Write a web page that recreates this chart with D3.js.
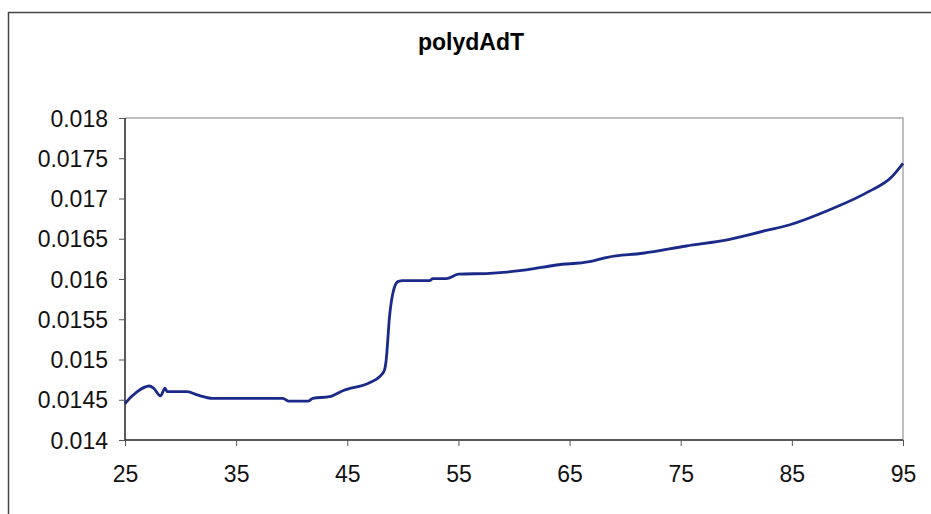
<!DOCTYPE html>
<html>
<head>
<meta charset="utf-8">
<script src="https://cdn.jsdelivr.net/npm/d3@7"></script>
<style>
  body { margin: 0; background: #fff; }
  svg { display: block; }
</style>
</head>
<body>
<svg id="chart"></svg>
<script>
// temperature (x) and polydAdT (y)
const temps = [25, 25.15, 26.05, 27.2, 27.6, 28.2, 28.6, 28.8, 30.6, 31.5, 32.9, 38.0, 39.2, 39.7, 41.5, 41.9, 43.4, 44.6, 47.0, 47.9, 48.35, 48.5, 48.8, 49.1, 49.55, 50.0, 52.4, 52.7, 53.9, 55.0, 57.8, 61.1, 63.8, 66.8, 68.4, 71.6, 75.5, 79.4, 82.6, 84.75, 88.35, 91.9, 94.0, 95.0];
const values = [0.01445, 0.014476, 0.014596, 0.014671, 0.01464, 0.014547, 0.014643, 0.0146, 0.0146, 0.01456, 0.014518, 0.014518, 0.014518, 0.014484, 0.014484, 0.014518, 0.014538, 0.014612, 0.014712, 0.014786, 0.01487, 0.014994, 0.015532, 0.015822, 0.015967, 0.01598, 0.01598, 0.016004, 0.016004, 0.01606, 0.016071, 0.016112, 0.016174, 0.016215, 0.01627, 0.01632, 0.01641, 0.016493, 0.0166, 0.016671, 0.016857, 0.017085, 0.017271, 0.017437];
const xTicks = [25, 35, 45, 55, 65, 75, 85, 95];
const yTicks = [0.014, 0.0145, 0.015, 0.0155, 0.016, 0.0165, 0.017, 0.0175, 0.018];

const width = 931, height = 514;
const margin = {left: 125, right: 28, top: 118, bottom: 74};

const svg = d3.select("#chart")
              .attr("width", width)
              .attr("height", height);

// outer chart frame
svg.append("rect")
   .attr("x", 8.5).attr("y", 12.5)
   .attr("width", 930).attr("height", 510)
   .attr("fill", "none")
   .attr("stroke", "#444")
   .attr("stroke-width", 1.5);

svg.append("text")
   .attr("x", 471).attr("y", 50)
   .attr("text-anchor", "middle")
   .attr("font-family", "Liberation Sans, Arial, sans-serif")
   .attr("font-weight", "bold")
   .attr("font-size", 23)
   .text("polydAdT");

const x = d3.scaleLinear().domain([25, 95]).range([margin.left, width - margin.right]);
const y = d3.scaleLinear().domain([0.014, 0.018]).range([height - margin.bottom, margin.top]);

// plot area border top/right (light grey)
svg.append("path")
   .attr("d", `M${x(25)},${y(0.018)}H${x(95)}V${y(0.014)}`)
   .attr("fill", "none")
   .attr("stroke", "#aaa")
   .attr("stroke-width", 1.5);

const yAxis = svg.append("g")
   .attr("transform", `translate(${x(25)},0)`)
   .call(d3.axisLeft(y).tickValues(yTicks).tickSize(6).tickPadding(11).tickFormat(d => String(+d.toFixed(4))));

const xAxis = svg.append("g")
   .attr("transform", `translate(0,${y(0.014)})`)
   .call(d3.axisBottom(x).tickValues(xTicks).tickSize(6).tickPadding(20));

[xAxis, yAxis].forEach(g => {
  g.selectAll(".domain").attr("stroke", "#222").attr("stroke-width", 1.5);
  g.selectAll(".tick line").attr("stroke", "#555");
  g.selectAll("text")
   .attr("font-family", "Liberation Sans, Arial, sans-serif")
   .attr("font-size", 23)
   .attr("fill", "#111");
});
xAxis.select(".domain").attr("d", `M${x(25)},0H${x(95)}`);
yAxis.select(".domain").attr("d", `M0,${y(0.018)}V${y(0.014)}`);
yAxis.selectAll("text").attr("dy", "0.35em");

const line = d3.line()
               .x((d, i) => x(temps[i]))
               .y(d => y(d))
               .curve(d3.curveMonotoneX);

svg.append("path")
   .datum(values)
   .attr("d", line)
   .attr("fill", "none")
   .attr("stroke", "#1a2a88")
   .attr("stroke-width", 2.8);
</script>
</body>
</html>
